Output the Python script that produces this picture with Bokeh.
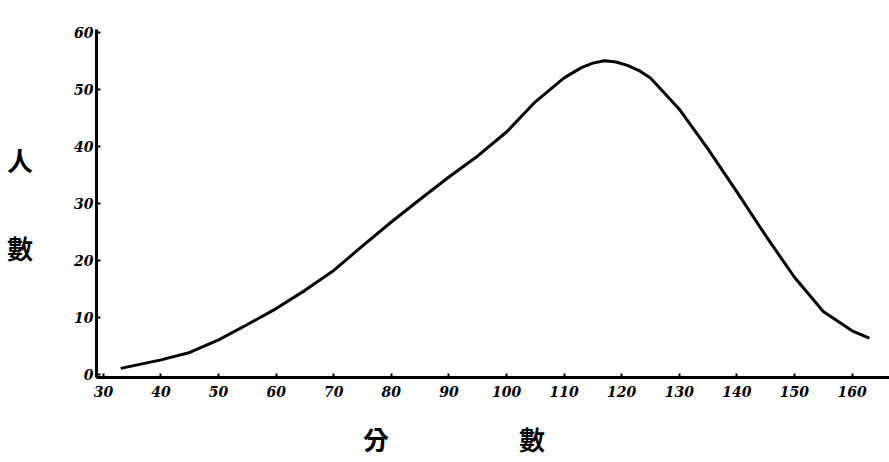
from bokeh.plotting import figure
from bokeh.models import FixedTicker, Range1d
from bokeh.embed import file_html
from bokeh.resources import INLINE

# Data: score (分數) vs. number of people (人數)
scores = [33, 40, 45, 50, 55, 60, 65, 70, 75, 80, 85, 90, 95, 100, 105, 110,
          113, 115, 117, 119, 121, 123, 125, 130, 135, 140, 145, 150, 155, 160, 163]
people = [1.0, 2.5, 3.8, 6.0, 8.7, 11.5, 14.7, 18.2, 22.5, 26.7, 30.7, 34.6,
          38.3, 42.5, 47.8, 52.0, 53.8, 54.6, 55.0, 54.8, 54.2, 53.3, 52.0,
          46.5, 39.5, 32.0, 24.3, 17.0, 11.0, 7.6, 6.3]
x_ticks = [30, 40, 50, 60, 70, 80, 90, 100, 110, 120, 130, 140, 150, 160]
y_ticks = [0, 10, 20, 30, 40, 50, 60]
x_title = "分\u3000\u3000\u3000\u3000\u3000數\u3000\u3000\u3000"
y_title = "人\n\n數"

p = figure(width=889, height=462, output_backend="svg", toolbar_location=None,
           x_range=Range1d(28.8, 166.5), y_range=Range1d(-0.6, 60.5),
           min_border_left=96, min_border_right=0, min_border_top=29,
           min_border_bottom=85)
p.outline_line_color = None
p.grid.visible = False
p.background_fill_color = "white"
p.border_fill_color = "white"

p.line(scores, people, line_color="black", line_width=3)

tick_font = "DejaVu Serif"
for ax in (p.xaxis[0], p.yaxis[0]):
    ax.axis_line_width = 3
    ax.axis_line_color = "black"
    ax.major_tick_line_width = 2
    ax.major_tick_line_color = "black"
    ax.minor_tick_line_color = None
    ax.major_label_text_font = tick_font
    ax.major_label_text_font_style = "bold italic"
    ax.major_label_text_font_size = "14px"
    ax.major_label_text_color = "black"
    ax.axis_label_text_font = "Noto Sans CJK TC"
    ax.axis_label_text_font_style = "bold"
    ax.axis_label_text_font_size = "26px"
    ax.axis_label_text_color = "black"

p.xaxis.ticker = FixedTicker(ticks=x_ticks)
p.yaxis.ticker = FixedTicker(ticks=y_ticks)
p.xaxis.major_tick_in = 4
p.xaxis.major_tick_out = 0
p.yaxis.major_tick_in = 4
p.yaxis.major_tick_out = 0
p.xaxis.major_label_standoff = 8
p.yaxis.major_label_standoff = 3

p.xaxis.axis_label = x_title
p.xaxis.axis_label_standoff = 20
p.yaxis.axis_label = y_title
p.yaxis.axis_label_orientation = "horizontal"
p.yaxis.axis_label_standoff = 38

open("out.html", "w").write(file_html(p, INLINE))
